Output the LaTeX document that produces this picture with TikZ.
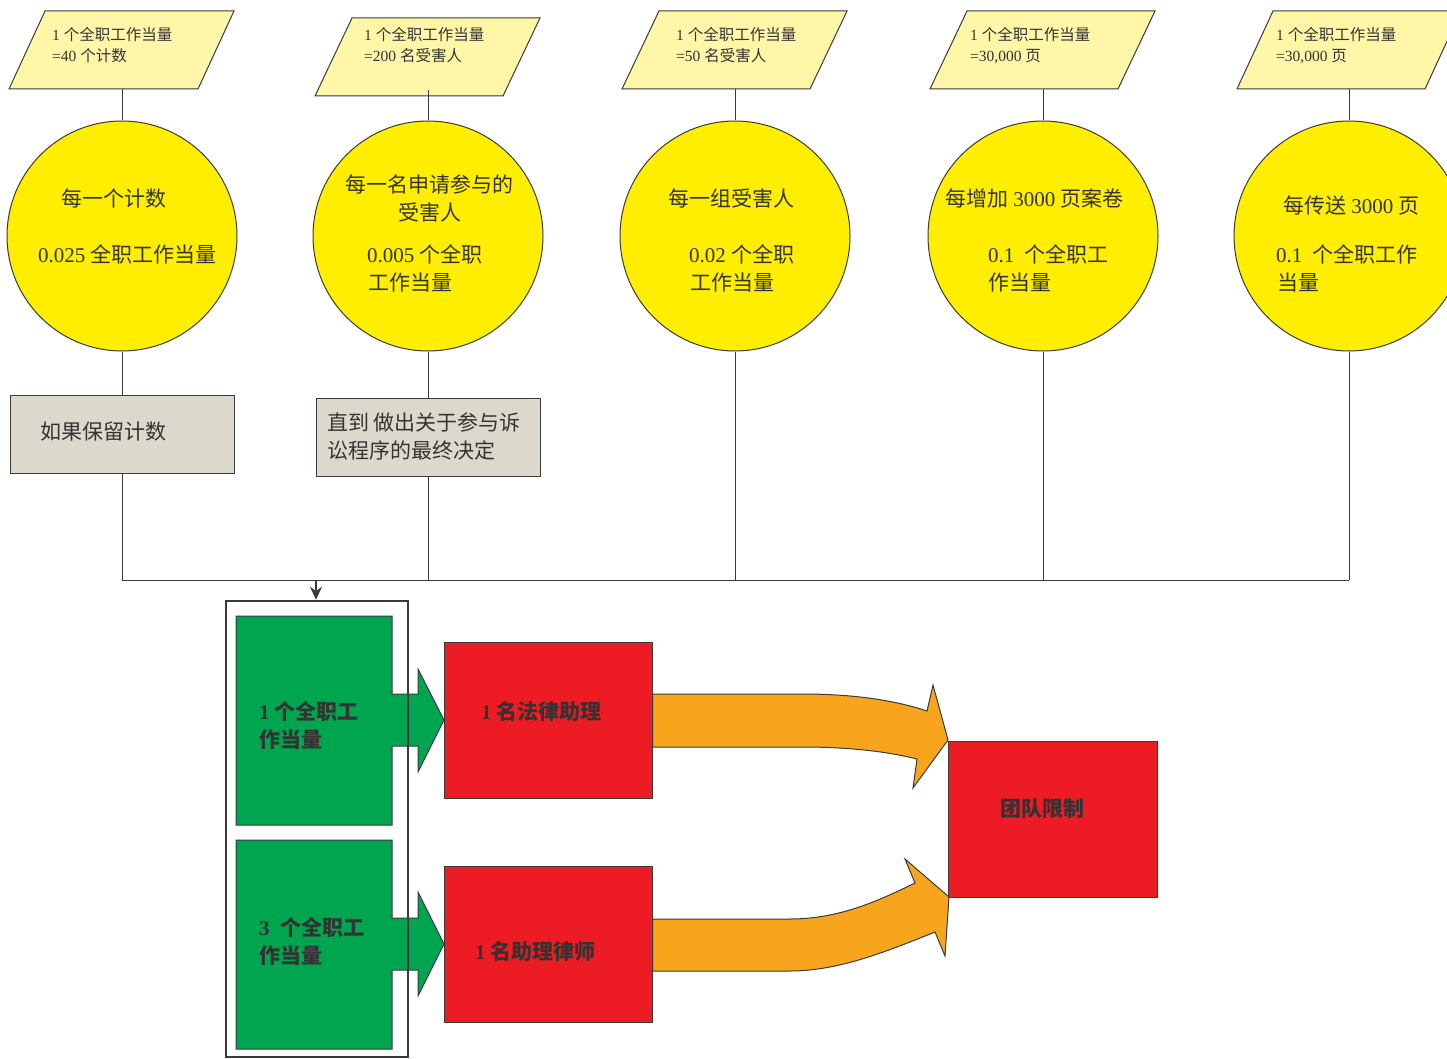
\documentclass[tikz,border=0pt]{standalone}
\usepackage{fontspec}
\setmainfont{Liberation Serif}
\newfontfamily\cjk{Noto Sans CJK SC}
\newcommand\zh[1]{{\cjk #1}}
\usetikzlibrary{arrows.meta}
\definecolor{lc}{HTML}{3A3A3A}
\definecolor{tc}{HTML}{333333}
\definecolor{pyel}{HTML}{FFF6A8}
\definecolor{cyel}{HTML}{FFEE00}
\definecolor{gbox}{HTML}{DCD9CC}
\definecolor{grn}{HTML}{00A54F}
\definecolor{rd}{HTML}{ED1C24}
\definecolor{org}{HTML}{F6A51D}
\tikzset{
  ln/.style={draw=lc, line width=1pt},
  para/.style={ln, fill=pyel},
  circ/.style={circle, ln, fill=cyel, minimum size=230pt, inner sep=0pt},
  graybox/.style={rectangle, ln, fill=gbox, minimum width=224pt, minimum height=78pt, inner sep=0pt},
  redbox/.style={rectangle, ln, fill=rd, minimum width=208pt, minimum height=156pt, inner sep=0pt},
  tl/.style={anchor=base west, inner sep=0pt, text=tc, font=\fontsize{21}{25}\selectfont},
  ts/.style={anchor=base west, inner sep=0pt, text=tc, font=\fontsize{15.5}{18}\selectfont},
  tb/.style={anchor=base west, inner sep=0pt, text=tc, font=\fontsize{21}{25}\selectfont\bfseries},
}
\begin{document}
\begin{tikzpicture}[x=1pt,y=-1pt]
\useasboundingbox (0,0) rectangle (1447,1059);
\clip (0,0) rectangle (1447,1059);
\fill[white] (0,0) rectangle (1447,1059);

% parallelograms
\draw[para] (9,89) -- (198,89) -- (234,11) -- (45,11) -- cycle;
\draw[para] (315,96) -- (503,96) -- (540,18) -- (352,18) -- cycle;
\draw[para] (622,89) -- (810,89) -- (847,11) -- (659,11) -- cycle;
\draw[para] (930,89) -- (1118,89) -- (1155,11) -- (967,11) -- cycle;
\draw[para] (1237,89) -- (1425,89) -- (1461,11) -- (1273,11) -- cycle;
\coordinate (p1) at (122,89);
\coordinate (p2) at (428,90);
\coordinate (p3) at (735,89);
\coordinate (p4) at (1043,89);
\coordinate (p5) at (1349,89);

% circles
\node[circ] (c1) at (122,236) {};
\node[circ] (c2) at (428,236) {};
\node[circ] (c3) at (735,236) {};
\node[circ] (c4) at (1043,236) {};
\node[circ] (c5) at (1349,236) {};

% gray boxes
\node[graybox] (g1) at (122,434) {};
\node[graybox] (g2) at (428,437) {};

% junction coordinates
\coordinate (j1) at (122,580);
\coordinate (j2) at (428,580);
\coordinate (j3) at (735,580);
\coordinate (j4) at (1043,580);
\coordinate (j5) at (1349,580);
\coordinate (ja) at (316,580);

% connectors
\draw[ln] (p1) -- (c1.north);
\draw[ln] (p2) -- (c2.north);
\draw[ln] (p3) -- (c3.north);
\draw[ln] (p4) -- (c4.north);
\draw[ln] (p5) -- (c5.north);
\draw[ln] (c1.south) -- (g1.north);
\draw[ln] (c2.south) -- (g2.north);
\draw[ln] (g1.south) -- (j1);
\draw[ln] (g2.south) -- (j2);
\draw[ln] (c3.south) -- (j3);
\draw[ln] (c4.south) -- (j4);
\draw[ln] (c5.south) -- (j5);
\draw[ln] (j1) -- (j5);

% green shapes with arrows
\draw[ln, fill=grn] (236,616) -- (392,616) -- (392,694) -- (418,694) -- (418,669) -- (444,720) -- (418,772) -- (418,746) -- (392,746) -- (392,825) -- (236,825) -- cycle;
\draw[ln, fill=grn] (236,840) -- (392,840) -- (392,918) -- (418,918) -- (418,892) -- (444,944) -- (418,996) -- (418,970) -- (392,970) -- (392,1049) -- (236,1049) -- cycle;

% outer box
\node[rectangle, draw=lc, line width=2.5pt, minimum width=182pt, minimum height=456pt, inner sep=0pt] (ob) at (317,829) {};
\draw[draw=lc, line width=1.5pt, -{Stealth[length=13pt,width=12pt]}] (ja) -- (ob.north -| ja);

% red boxes
\node[redbox] (r1) at (548,720) {};
\node[redbox] (r2) at (548,944) {};
\node[redbox, minimum width=209pt] (r3) at (1052.5,819) {};

% orange arrows
\draw[ln, fill=org] (r1.east |- 0,694) -- (803,694) .. controls (860,694) and (900,702) .. (927,711) -- (933,685) -- (948,740) -- (913,788) -- (917,759) .. controls (890,752) and (850,747) .. (803,747) -- (r1.east |- 0,747) -- cycle;
\draw[ln, fill=org] (r2.east |- 0,919) -- (790,919) .. controls (840,919) and (880,900) .. (915,883) -- (905,859) -- (949,897) -- (945,956) -- (935,932) .. controls (890,950) and (840,971) .. (790,971) -- (r2.east |- 0,971) -- cycle;

% parallelogram texts
\node[ts] (pa1) at (52,41) {1 \zh{个全职工作当量}};
\node[ts] (pb1) at (52,62) {=40 \zh{个计数}};
\node[ts] (pa2) at (364,41) {1 \zh{个全职工作当量}};
\node[ts] (pb2) at (364,62) {=200 \zh{名受害人}};
\node[ts] (pa3) at (676,41) {1 \zh{个全职工作当量}};
\node[ts] (pb3) at (676,62) {=50 \zh{名受害人}};
\node[ts] (pa4) at (970,41) {1 \zh{个全职工作当量}};
\node[ts] (pb4) at (970,62) {=30,000 \zh{页}};
\node[ts] (pa5) at (1276,41) {1 \zh{个全职工作当量}};
\node[ts] (pb5) at (1276,62) {=30,000 \zh{页}};

% circle texts
\node[tl] (ca1) at (61,207) {\zh{每一个计数}};
\node[tl] (cb1) at (38,262) {0.025 \zh{全职工作当量}};
\node[tl] (ca2) at (345,193) {\zh{每一名申请参与的}};
\node[tl] (cc2) at (398,221) {\zh{受害人}};
\node[tl] (cb2) at (367,262) {0.005 \zh{个全职}};
\node[tl] (cd2) at (368,290) {\zh{工作当量}};
\node[tl] (ca3) at (668,207) {\zh{每一组受害人}};
\node[tl] (cb3) at (689,262) {0.02 \zh{个全职}};
\node[tl] (cd3) at (690,290) {\zh{工作当量}};
\node[tl] (ca4) at (945,207) {\zh{每增加} 3000 \zh{页案卷}};
\node[tl] (cb4) at (988,262) {0.1 \ \zh{个全职工}};
\node[tl] (cd4) at (988,290) {\zh{作当量}};
\node[tl] (ca5) at (1283,214) {\zh{每传送} 3000 \zh{页}};
\node[tl] (cb5) at (1276,262) {0.1 \ \zh{个全职工作}};
\node[tl] (cd5) at (1277,290) {\zh{当量}};

% gray box texts
\node[tl] (ga1) at (40,439) {\zh{如果保留计数}};
\node[tl] (ga2) at (327,430) {\zh{直到 做出关于参与诉}};
\node[tl] (gb2) at (327,458) {\zh{讼程序的最终决定}};

% green texts
\node[tb] (ea1) at (259,719) {1 \zh{个全职工}};
\node[tb] (eb1) at (259,747) {\zh{作当量}};
\node[tb] (ea2) at (259,935) {3 \ \zh{个全职工}};
\node[tb] (eb2) at (259,963) {\zh{作当量}};

% red texts
\node[tb] (ra1) at (481,719) {1 \zh{名法律助理}};
\node[tb] (ra2) at (475,959) {1 \zh{名助理律师}};
\node[tb] (ra3) at (1000,816) {\zh{团队限制}};
\end{tikzpicture}
\end{document}
